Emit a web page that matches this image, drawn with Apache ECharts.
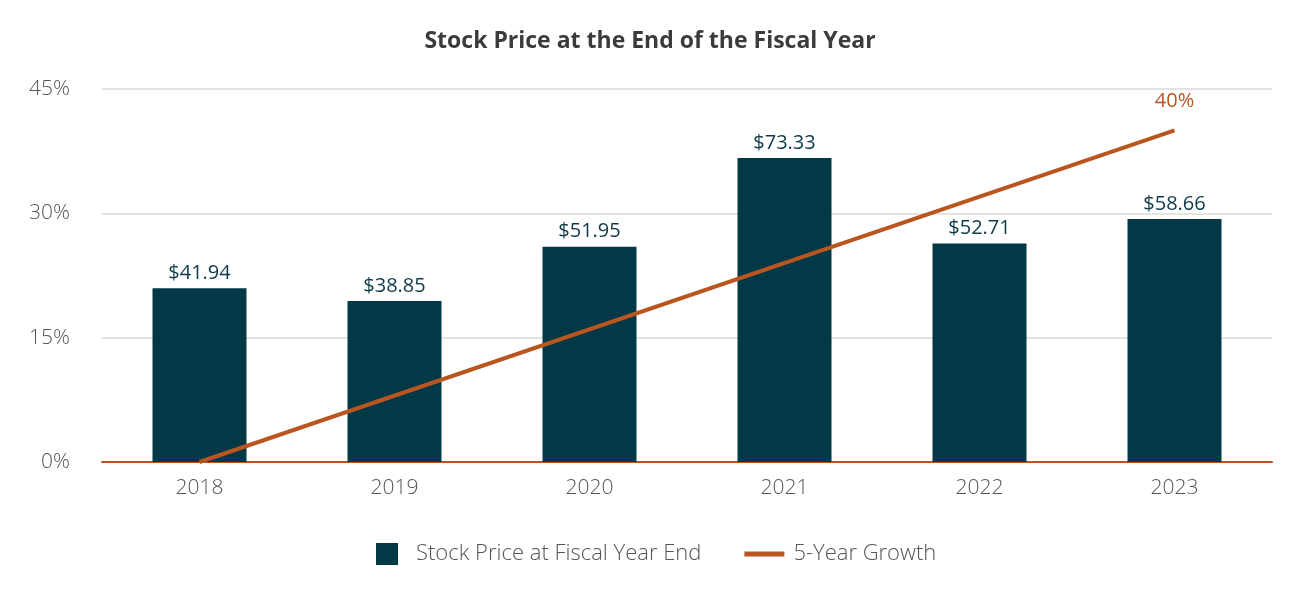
<!DOCTYPE html>
<html>
<head>
<meta charset="utf-8">
<script src="https://cdn.jsdelivr.net/npm/echarts@6/dist/echarts.min.js"></script>
<style>
html,body{margin:0;padding:0;background:#fff;}
#chart{width:1300px;height:600px;}
</style>
</head>
<body>
<div id="chart"></div>
<script>
const categories = ['2018', '2019', '2020', '2021', '2022', '2023'];
const stockPrices = [41.94, 38.85, 51.95, 73.33, 52.71, 58.66];
// 5-year growth: start (0%) and end (40%) values; drawn as a straight line
const growth = [0, null, null, null, null, 40];
const yTicks = [0, 15, 30, 45];

const teal = '#033847';
const orange = '#b9561f';
const font = 'Open Sans';

const chart = echarts.init(document.getElementById('chart'));
chart.setOption({
  animation: false,
  textStyle: { fontFamily: font },
  title: {
    text: 'Stock Price at the End of the Fiscal Year',
    left: 'center',
    top: 25,
    textStyle: { fontFamily: font, fontSize: 23, fontWeight: 'bold', color: '#3b3b3b' }
  },
  legend: {
    top: 538,
    left: 371,
    itemGap: 43,
    itemWidth: 40,
    itemHeight: 22,
    textStyle: { fontFamily: font, fontSize: 22, fontWeight: 300, color: '#555555', padding: [0, 0, 0, 4] },
    data: [
      { name: 'Stock Price at Fiscal Year End', icon: 'path://M0,0L22,0L22,22L0,22Z', itemStyle: { color: teal } },
      { name: '5-Year Growth', icon: 'path://M0,0L40,0L40,5L0,5Z', itemStyle: { color: orange } }
    ]
  },
  grid: { left: 102, right: 28, top: 89, bottom: 138, containLabel: false },
  xAxis: {
    type: 'category',
    data: categories,
    axisLine: { lineStyle: { color: orange, width: 2 } },
    axisTick: { show: false },
    axisLabel: { fontFamily: font, fontSize: 21, fontWeight: 300, color: '#555555', margin: 16 }
  },
  yAxis: [
    {
      type: 'value',
      min: yTicks[0],
      max: yTicks[yTicks.length - 1],
      interval: 15,
      axisLine: { show: false },
      axisTick: { show: false },
      splitLine: { lineStyle: { color: '#e3e3e3', width: 2 } },
      axisLabel: { fontFamily: font, fontSize: 21, fontWeight: 300, color: '#555555', margin: 32, formatter: '{value}%' }
    },
    {
      type: 'value',
      min: 0,
      max: 90,
      interval: 30,
      show: false,
      splitLine: { show: false }
    }
  ],
  series: [
    {
      name: 'Stock Price at Fiscal Year End',
      type: 'bar',
      yAxisIndex: 1,
      data: stockPrices,
      barWidth: 94,
      itemStyle: { color: teal },
      label: {
        show: true,
        position: 'top',
        distance: 5,
        fontFamily: font,
        fontSize: 20,
        color: '#0f3a4a',
        formatter: p => '$' + p.value.toFixed(2)
      }
    },
    {
      name: '5-Year Growth',
      type: 'line',
      yAxisIndex: 0,
      data: growth,
      connectNulls: true,
      showSymbol: false,
      symbol: 'none',
      lineStyle: { color: orange, width: 4 },
      itemStyle: { color: orange },
      markPoint: {
        symbol: 'circle',
        symbolSize: 0,
        data: [{ coord: [categories.length - 1, growth[growth.length - 1]] }],
        label: {
          show: true,
          position: 'top',
          distance: 19,
          fontFamily: font,
          fontSize: 20,
          color: orange,
          formatter: () => growth[growth.length - 1] + '%'
        }
      }
    }
  ]
});
</script>
</body>
</html>
